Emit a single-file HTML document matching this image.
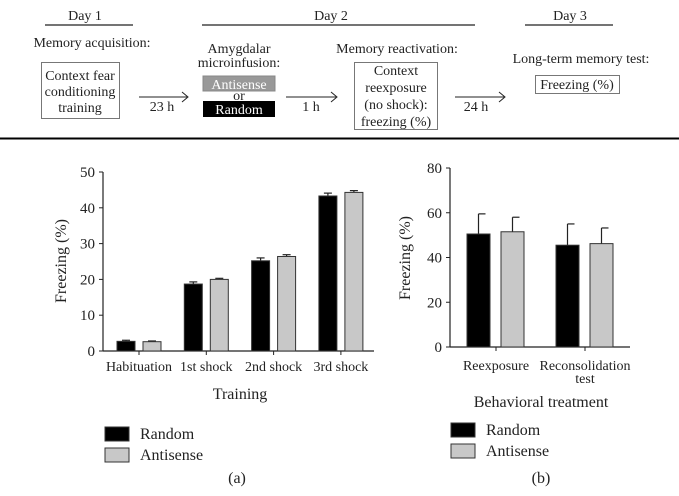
<!DOCTYPE html>
<html><head><meta charset="utf-8"><style>
body{margin:0;background:#fff;}
svg{display:block;font-family:"Liberation Serif",serif;}
svg text{font-family:"Liberation Serif",serif;}
</style></head><body>
<svg id="fig" width="679" height="496" viewBox="0 0 679 496" xmlns="http://www.w3.org/2000/svg">
<g font-size="14" font-family="Liberation Serif, serif" fill="#222">
  <text x="85" y="20" text-anchor="middle">Day 1</text>
  <line x1="45" y1="25" x2="133" y2="25" stroke="#222" stroke-width="1.2"/>
  <text x="331" y="20" text-anchor="middle">Day 2</text>
  <line x1="202" y1="25" x2="475" y2="25" stroke="#222" stroke-width="1.2"/>
  <text x="570" y="20" text-anchor="middle">Day 3</text>
  <line x1="525" y1="25" x2="613" y2="25" stroke="#222" stroke-width="1.2"/>

  <text x="92" y="47" text-anchor="middle">Memory acquisition:</text>
  <rect x="41.5" y="62.5" width="78" height="56" fill="none" stroke="#777"/>
  <text x="80" y="80" text-anchor="middle">Context fear</text>
  <text x="80" y="96" text-anchor="middle">conditioning</text>
  <text x="80" y="112" text-anchor="middle">training</text>

  <line x1="139" y1="97" x2="187" y2="97" stroke="#222"/><path d="M182,92 L188,97 L182,102" fill="none" stroke="#222"/>
  <text x="162" y="111" text-anchor="middle">23 h</text>

  <text x="239" y="53" text-anchor="middle">Amygdalar</text>
  <text x="239" y="67" text-anchor="middle">microinfusion:</text>
  <rect x="203" y="76" width="72" height="15" fill="#999" stroke="#888"/>
  <text x="239" y="89" text-anchor="middle" fill="#fff">Antisense</text>
  <text x="239" y="100" text-anchor="middle">or</text>
  <rect x="203" y="101" width="72" height="16" fill="#000"/>
  <text x="239" y="114" text-anchor="middle" fill="#fff">Random</text>

  <line x1="286" y1="97" x2="336" y2="97" stroke="#222"/><path d="M331,92 L337,97 L331,102" fill="none" stroke="#222"/>
  <text x="311" y="111" text-anchor="middle">1 h</text>

  <text x="397" y="53" text-anchor="middle">Memory reactivation:</text>
  <rect x="354.5" y="62.5" width="83" height="67" fill="none" stroke="#777"/>
  <text x="396" y="75" text-anchor="middle">Context</text>
  <text x="396" y="92" text-anchor="middle">reexposure</text>
  <text x="396" y="109" text-anchor="middle">(no shock):</text>
  <text x="396" y="126" text-anchor="middle">freezing (%)</text>

  <line x1="455" y1="97" x2="504" y2="97" stroke="#222"/><path d="M499,92 L505,97 L499,102" fill="none" stroke="#222"/>
  <text x="476" y="111" text-anchor="middle">24 h</text>

  <text x="581" y="63" text-anchor="middle">Long-term memory test:</text>
  <rect x="535.5" y="75.5" width="84" height="18" fill="none" stroke="#777"/>
  <text x="577" y="89" text-anchor="middle">Freezing (%)</text>
</g>
<line x1="0" y1="138.5" x2="679" y2="138.5" stroke="#000" stroke-width="2"/>
<g id="chartA"></g>
<g id="chartB"></g>
</svg>
<script>
const catsA = ["Habituation","1st shock","2nd shock","3rd shock"];
const randomA = [2.7, 18.7, 25.2, 43.3];
const randomErrA = [0.3, 0.6, 0.8, 0.8];
const antiA = [2.6, 20.0, 26.4, 44.3];
const antiErrA = [0.2, 0.3, 0.5, 0.5];
const ticksA = [0,10,20,30,40,50];

const catsB = [["Reexposure"],["Reconsolidation","test"]];
const randomB = [50.5, 45.5];
const randomErrB = [9.0, 9.5];
const antiB = [51.5, 46.2];
const antiErrB = [6.5, 7.0];
const ticksB = [0,20,40,60,80];

const NS="http://www.w3.org/2000/svg";
function mk(p,tag,attrs,text){const e=document.createElementNS(NS,tag);for(const k in attrs)e.setAttribute(k,attrs[k]);if(text!==undefined)e.textContent=text;p.appendChild(e);return e;}

function drawChart(g,cfg){
  const y=v=>cfg.y0-(v/cfg.max)*(cfg.y0-cfg.yTop);
  const x=i=>cfg.firstTick+i*cfg.step;
  const ya=mk(g,'line',{x1:cfg.ax,y1:cfg.yTop,x2:cfg.ax,y2:cfg.y0,stroke:'#222','stroke-width':1.2});
  
  
  const xa=mk(g,'line',{x1:cfg.ax,y1:cfg.y0,x2:cfg.axEnd,y2:cfg.y0,stroke:'#222','stroke-width':1.2});
  
  
  cfg.ticks.forEach(t=>{
    mk(g,'line',{x1:cfg.ax-4,y1:y(t),x2:cfg.ax,y2:y(t),stroke:'#222'});
    const tl=mk(g,'text',{x:cfg.ax-8,y:y(t)+5,'text-anchor':'end','font-size':15,fill:'#222'},t);
    
    
  });
  cfg.cats.forEach((c,i)=>{
    mk(g,'line',{x1:x(i),y1:cfg.y0,x2:x(i),y2:cfg.y0+4,stroke:'#222'});
    const lines=Array.isArray(c)?c:[c];
    lines.forEach((ln,j)=>{
      const tl=mk(g,'text',{x:x(i),y:cfg.labelY+j*13,'text-anchor':'middle','font-size':cfg.labelSize,fill:'#222'},ln);
      
      
    });
  });
  const series=[[cfg.r,cfg.re,'#000',cfg.offR,'random'],[cfg.a,cfg.ae,'#c8c8c8',cfg.offA,'antisense']];
  series.forEach(([vals,errs,col,off,nm])=>{
    vals.forEach((v,i)=>{
      const bx=x(i)+off, top=y(v), cx=bx+cfg.bw/2, et=y(v+errs[i]);
      mk(g,'line',{x1:cx,y1:top,x2:cx,y2:et,stroke:'#222','stroke-width':1.2});
      mk(g,'line',{x1:cx-cfg.capL,y1:et,x2:cx+cfg.cap,y2:et,stroke:'#222','stroke-width':1.2});
      const b=mk(g,'rect',{x:bx,y:top,width:cfg.bw,height:cfg.y0-top,fill:col,stroke:'#333','stroke-width':1});
      
      
    });
  });
  const yt=mk(g,'text',{transform:`translate(${cfg.ytX},${cfg.ytY}) rotate(-90)`,'text-anchor':'middle','font-size':16,fill:'#222'},'Freezing (%)');
  
  
  const xt=mk(g,'text',{x:cfg.xtX,y:cfg.xtY,'text-anchor':'middle','font-size':16,fill:'#222'},cfg.xTitle);
  
  
  const l1=mk(g,'rect',{x:cfg.legX,y:cfg.legY,width:24,height:14,fill:'#000',stroke:'#333'});
  
  
  const l2=mk(g,'rect',{x:cfg.legX,y:cfg.legY+21,width:24,height:14,fill:'#c8c8c8',stroke:'#333'});
  
  
  const t1=mk(g,'text',{x:cfg.legX+35,y:cfg.legY+12,'font-size':16,fill:'#222'},'Random');
  
  
  const t2=mk(g,'text',{x:cfg.legX+35,y:cfg.legY+33,'font-size':16,fill:'#222'},'Antisense');
  
  
  const pl=mk(g,'text',{x:cfg.panelX,y:483,'text-anchor':'middle','font-size':16,fill:'#222'},cfg.panel);
  
  
}
drawChart(document.getElementById('chartA'),{
  ax:103,axEnd:374,y0:351,yTop:172,max:50,ticks:ticksA,cats:catsA,firstTick:139,step:67.3,
  r:randomA,re:randomErrA,a:antiA,ae:antiErrA,bw:18,offR:-22,offA:4,cap:4,capL:4,
  labelY:371,labelSize:14,ytX:66,ytY:261,xtX:240,xtY:399,xTitle:'Training',
  legX:105,legY:427,panelX:237,panel:'(a)'
});
drawChart(document.getElementById('chartB'),{
  ax:450,axEnd:630,y0:347,yTop:168,max:80,ticks:ticksB,cats:catsB,firstTick:496,step:89,
  r:randomB,re:randomErrB,a:antiB,ae:antiErrB,bw:23,offR:-29,offA:5,cap:7,capL:0,
  labelY:370,labelSize:14,ytX:410,ytY:258,xtX:541,xtY:407,xTitle:'Behavioral treatment',
  legX:451,legY:423,panelX:541,panel:'(b)'
});
</script>
</body></html>
